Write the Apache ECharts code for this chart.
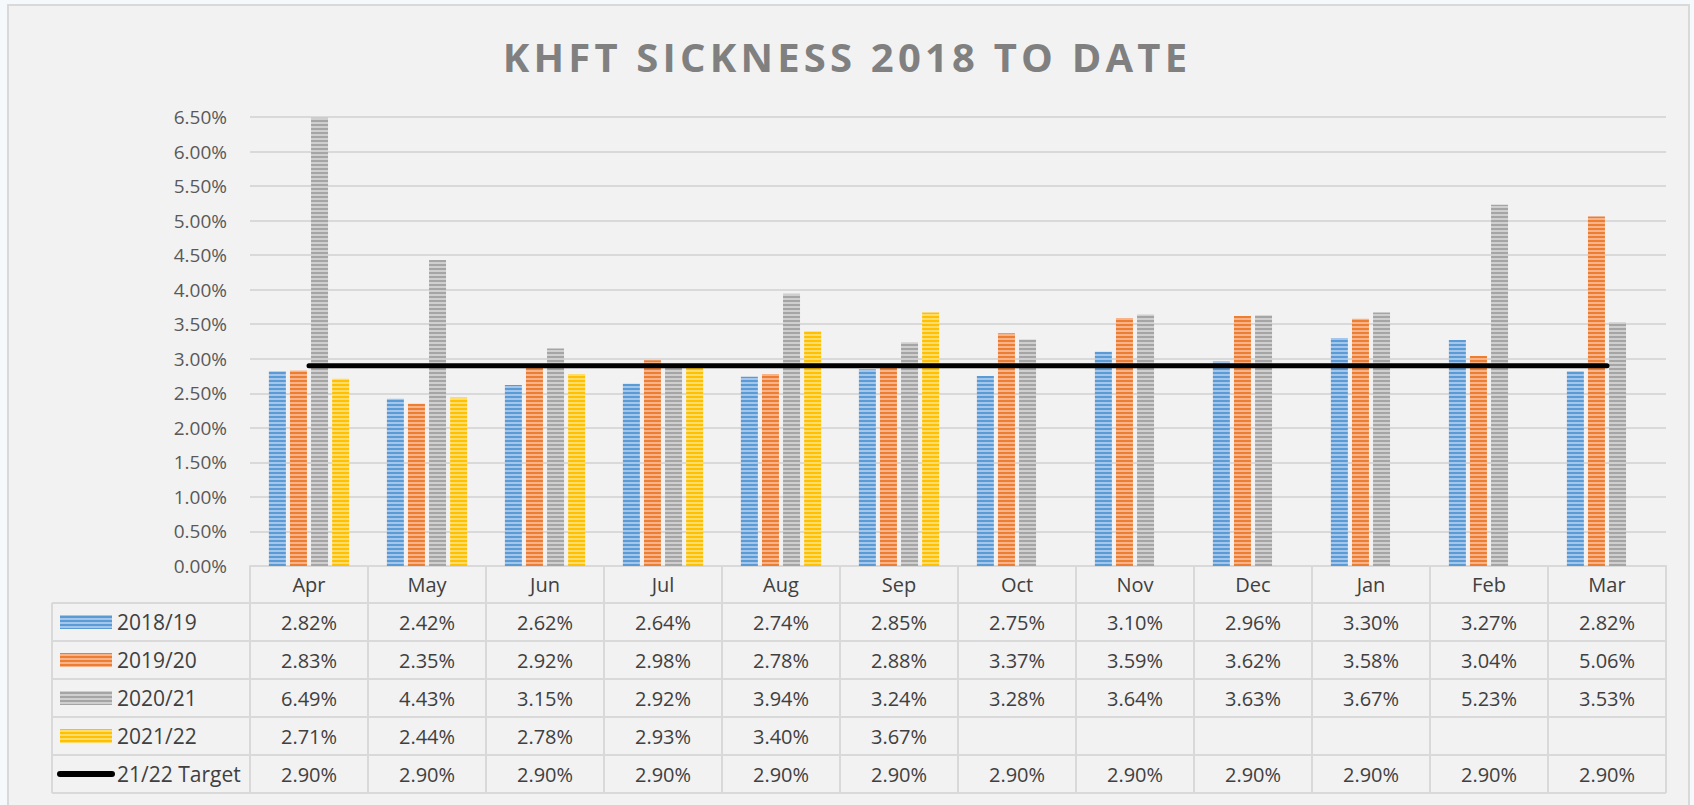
<!DOCTYPE html>
<html>
<head>
<meta charset="utf-8">
<title>KHFT Sickness 2018 to date</title>
<script src="https://cdn.jsdelivr.net/npm/echarts@6/dist/echarts.min.js"></script>
<style>
  html, body { margin: 0; padding: 0; background: #f5f9fc; overflow: hidden; }
  #frame {
    position: absolute; left: 7px; top: 4px; width: 1683px; height: 820px;
    border: 2px solid #d9d9d9; background: #f2f2f2; box-sizing: border-box;
  }
  #chart { position: absolute; left: 0; top: 0; width: 1694px; height: 805px; }
</style>
</head>
<body>
<div id="frame"></div>
<div id="chart"></div>
<script>
// data
const TITLE = 'KHFT SICKNESS 2018 TO DATE';
const categories = ['Apr', 'May', 'Jun', 'Jul', 'Aug', 'Sep', 'Oct', 'Nov', 'Dec', 'Jan', 'Feb', 'Mar'];
const s1819 = [2.82, 2.42, 2.62, 2.64, 2.74, 2.85, 2.75, 3.10, 2.96, 3.30, 3.27, 2.82];
const s1920 = [2.83, 2.35, 2.92, 2.98, 2.78, 2.88, 3.37, 3.59, 3.62, 3.58, 3.04, 5.06];
const s2021 = [6.49, 4.43, 3.15, 2.92, 3.94, 3.24, 3.28, 3.64, 3.63, 3.67, 5.23, 3.53];
const s2122 = [2.71, 2.44, 2.78, 2.93, 3.40, 3.67, null, null, null, null, null, null];
const target = [2.90, 2.90, 2.90, 2.90, 2.90, 2.90, 2.90, 2.90, 2.90, 2.90, 2.90, 2.90];
const seriesNames = ['2018/19', '2019/20', '2020/21', '2021/22', '21/22 Target'];
const yMin = 0, yMax = 6.5, yStep = 0.5;

const FONT = '"Open Sans", sans-serif';
const TEXT = '#404040';
const LINE = '#d9d9d9';

// narrow horizontal stripe fill like the Excel pattern
function stripes(dark, light) {
    const c = document.createElement('canvas');
    c.width = 4; c.height = 4;
    const g = c.getContext('2d');
    g.fillStyle = light; g.fillRect(0, 0, 4, 4);
    g.fillStyle = dark; g.fillRect(0, 0, 4, 2);
    return { image: c, repeat: 'repeat', imageWidth: 4, imageHeight: 4 };
}
const fills = [
    stripes('#5b9bd5', '#a4c6ea'),
    stripes('#ed7d31', '#f5b48c'),
    stripes('#a5a5a5', '#cfcfcf'),
    stripes('#ffc000', '#ffdc6e')
];

const chart = echarts.init(document.getElementById('chart'), null, { renderer: 'svg' });

const barData = [s1819, s1920, s2021, s2122];
const series = barData.map((d, i) => ({
    name: seriesNames[i],
    type: 'bar',
    data: d,
    barWidth: 17,
    barGap: '24%',
    itemStyle: { color: fills[i] }
}));
series.push({
    name: seriesNames[4],
    type: 'line',
    data: target,
    symbol: 'none',
    z: 5,
    lineStyle: { color: '#000', width: 5, cap: 'round' }
});

chart.setOption({
    animation: false,
    backgroundColor: 'transparent',
    grid: { left: 250, right: 28, top: 117, bottom: 239 },
    xAxis: {
        type: 'category',
        data: categories,
        axisLine: { lineStyle: { color: LINE, width: 2 } },
        axisTick: { show: false },
        axisLabel: { show: false }
    },
    yAxis: {
        type: 'value',
        min: yMin,
        max: yMax,
        interval: yStep,
        axisLine: { show: false },
        axisTick: { show: false },
        splitLine: { lineStyle: { color: LINE, width: 2 } },
        axisLabel: {
            margin: 23,
            color: '#595959',
            fontFamily: FONT,
            fontSize: 19,
            formatter: v => v.toFixed(2) + '%'
        }
    },
    series: series
});

// data table under the plot, placed from the axis scales
const x0 = chart.convertToPixel({ xAxisIndex: 0 }, 0);
const cellW = chart.convertToPixel({ xAxisIndex: 0 }, 1) - x0;
const left = x0 - cellW / 2;
const right = left + categories.length * cellW;
const yBase = chart.convertToPixel({ yAxisIndex: 0 }, 0);
const tableLeft = 52, headerH = 37, rowH = 38;
const bottom = yBase + headerH + seriesNames.length * rowH;
const rows = [s1819, s1920, s2021, s2122, target];

const els = [];
const lineStyle = { stroke: LINE, lineWidth: 2 };

els.push({
    type: 'text', x: 847, y: 56,
    style: {
        text: TITLE, fill: '#808080', font: 'bold 40px ' + FONT,
        align: 'center', verticalAlign: 'middle'
    }
});

for (let i = 0; i <= seriesNames.length; i++) {
    const y = yBase + headerH + i * rowH;
    els.push({ type: 'line', shape: { x1: tableLeft, y1: y, x2: right, y2: y }, style: lineStyle });
}
for (let j = 0; j <= categories.length; j++) {
    const x = left + j * cellW;
    els.push({ type: 'line', shape: { x1: x, y1: yBase, x2: x, y2: bottom }, style: lineStyle });
}
els.push({ type: 'line', shape: { x1: tableLeft, y1: yBase + headerH, x2: tableLeft, y2: bottom }, style: lineStyle });

categories.forEach((c, j) => {
    els.push({
        type: 'text', x: x0 + j * cellW, y: yBase + headerH / 2,
        style: { text: c, fill: TEXT, font: '20px ' + FONT, align: 'center', verticalAlign: 'middle' }
    });
});

rows.forEach((vals, i) => {
    const cy = yBase + headerH + i * rowH + rowH / 2;
    if (i < 4) {
        els.push({ type: 'rect', shape: { x: 60, y: cy - 7, width: 52, height: 14 }, style: { fill: fills[i] } });
    } else {
        els.push({
            type: 'line', shape: { x1: 60, y1: cy, x2: 112, y2: cy },
            style: { stroke: '#000', lineWidth: 6, lineCap: 'round' }
        });
    }
    els.push({
        type: 'text', x: 117, y: cy,
        style: { text: seriesNames[i], fill: TEXT, font: '21px ' + FONT, align: 'left', verticalAlign: 'middle' }
    });
    vals.forEach((v, j) => {
        if (v == null) return;
        els.push({
            type: 'text', x: x0 + j * cellW, y: cy,
            style: { text: v.toFixed(2) + '%', fill: TEXT, font: '20px ' + FONT, align: 'center', verticalAlign: 'middle' }
        });
    });
});

chart.setOption({ graphic: { elements: els } });

// Excel title is letter-spaced; the svg renderer lets css do that
chart.getDom().querySelectorAll('text').forEach(t => {
    if (t.textContent === TITLE) t.style.letterSpacing = '4.2px';
});
</script>
</body>
</html>
